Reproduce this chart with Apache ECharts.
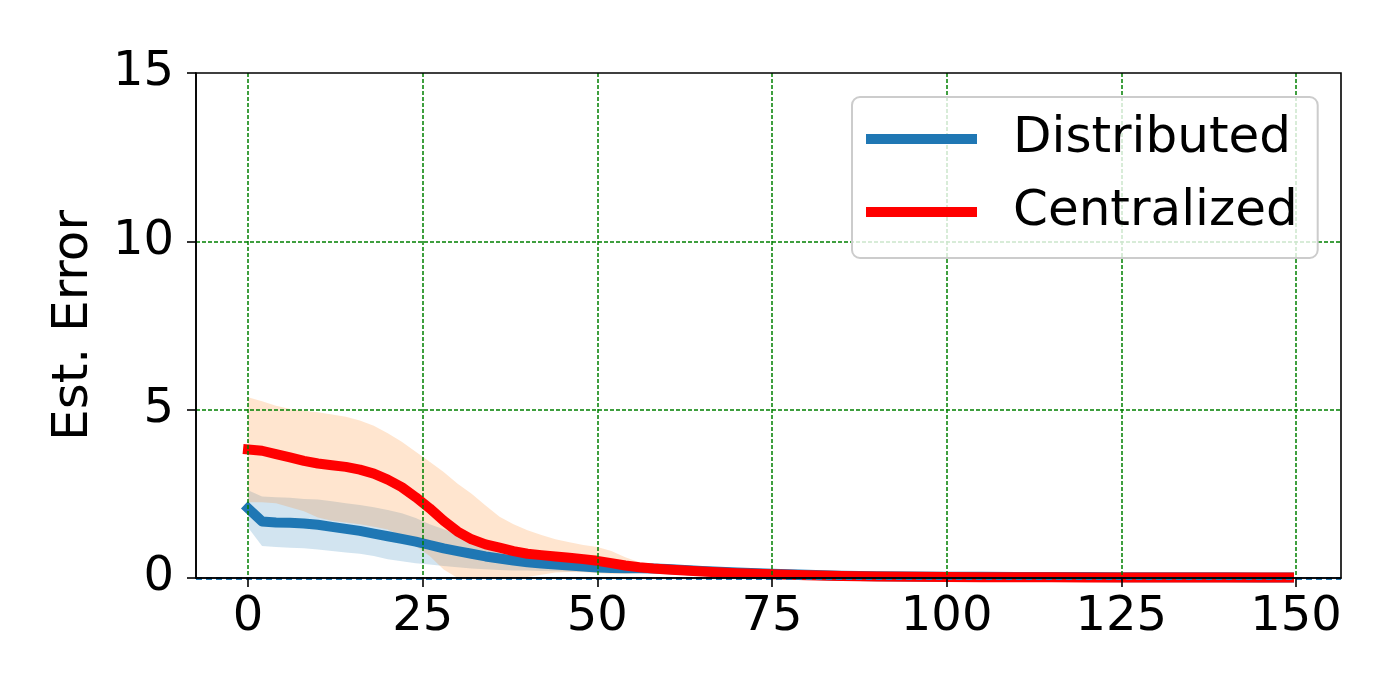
<!DOCTYPE html>
<html>
<head>
<meta charset="utf-8">
<script src="https://cdn.jsdelivr.net/npm/echarts@6/dist/echarts.min.js"></script>
<style>
  html, body { margin: 0; padding: 0; background: #ffffff; }
  #chart { width: 1400px; height: 700px; }
</style>
</head>
<body>
<div id="chart"></div>
<script>
// ---- data ----
const xs = [0,2,4,6,8,10,12,14,16,18,20,22,24,26,28,30,32,34,36,38,40,42,44,46,48,50,52,54,56,58,60,
            65,70,75,80,85,90,95,100,105,110,115,120,125,130,135,140,145,149];
const xTicks = [0, 25, 50, 75, 100, 125, 150];
const yTicks = [0, 5, 10, 15];

const centralizedMean = [3.82,3.78,3.68,3.58,3.48,3.40,3.35,3.30,3.22,3.10,2.92,2.70,2.40,2.07,1.70,1.38,1.15,1.00,0.90,0.80,0.72,0.68,0.64,0.60,0.56,0.51,0.44,0.37,0.32,0.28,0.25,
                         0.19,0.14,0.11,0.08,0.06,0.045,0.035,0.03,0.025,0.022,0.02,0.018,0.016,0.015,0.014,0.013,0.012,0.012];
const centralizedUpper = [5.37,5.25,5.12,5.02,4.97,4.92,4.86,4.79,4.68,4.52,4.30,4.05,3.75,3.45,3.15,2.80,2.50,2.15,1.82,1.60,1.42,1.28,1.15,1.06,0.98,0.92,0.80,0.62,0.47,0.37,0.30,
                          0.22,0.16,0.12,0.09,0.07,0.05,0.04,0.035,0.03,0.026,0.024,0.022,0.02,0.018,0.017,0.016,0.015,0.015];
const centralizedLower = [2.25,2.25,2.22,2.10,1.98,1.80,1.70,1.65,1.60,1.52,1.44,1.25,0.95,0.65,0.25,-0.10,-0.25,-0.15,-0.05,0.0,0.03,0.10,0.16,0.18,0.17,0.14,0.12,0.12,0.15,0.19,0.20,
                          0.16,0.12,0.10,0.07,0.05,0.04,0.03,0.025,0.02,0.018,0.016,0.014,0.012,0.012,0.011,0.01,0.009,0.009];

const distributedMean = [2.07,1.68,1.65,1.64,1.62,1.58,1.52,1.46,1.40,1.32,1.24,1.16,1.08,0.98,0.88,0.80,0.72,0.64,0.58,0.52,0.47,0.43,0.40,0.37,0.34,0.31,0.30,0.29,0.29,0.28,0.27,
                         0.21,0.16,0.13,0.10,0.07,0.055,0.045,0.04,0.035,0.03,0.028,0.026,0.024,0.022,0.02,0.02,0.018,0.018];
const distributedUpper = [2.61,2.42,2.40,2.38,2.35,2.33,2.28,2.22,2.17,2.10,2.02,1.92,1.78,1.60,1.45,1.30,1.15,1.00,0.90,0.80,0.70,0.64,0.58,0.53,0.48,0.43,0.40,0.37,0.35,0.33,0.31,
                          0.24,0.18,0.145,0.11,0.08,0.06,0.05,0.045,0.04,0.035,0.032,0.03,0.027,0.025,0.023,0.022,0.02,0.02];
const distributedLower = [1.50,0.95,0.92,0.90,0.88,0.85,0.80,0.76,0.72,0.65,0.56,0.50,0.44,0.40,0.36,0.32,0.28,0.26,0.24,0.22,0.22,0.21,0.20,0.19,0.19,0.18,0.19,0.21,0.23,0.23,0.22,
                          0.18,0.14,0.115,0.09,0.06,0.05,0.04,0.035,0.03,0.025,0.024,0.022,0.021,0.019,0.017,0.018,0.016,0.016];

const seriesNames = ['Distributed', 'Centralized'];
const yAxisTitle = 'Est. Error';

// ---- styling ----
const FONT = 'DejaVu Sans';
const BLUE = '#1f77b4';
const RED = '#ff0000';
const ORANGE = '#ff7f0e';
const GRID_GREEN = '#008000';

function bandSeries(lower, upper, color) {
  return {
    type: 'custom',
    coordinateSystem: 'cartesian2d',
    silent: true,
    z: 2,
    data: [[xs[0], upper[0]]],
    renderItem: function (params, api) {
      const pts = [];
      for (let i = 0; i < xs.length; i++) pts.push(api.coord([xs[i], upper[i]]));
      for (let i = xs.length - 1; i >= 0; i--) pts.push(api.coord([xs[i], lower[i]]));
      const cs = params.coordSys;
      const clipped = echarts.graphic.clipPointsByRect(pts, { x: cs.x, y: cs.y, width: cs.width, height: cs.height });
      return {
        type: 'polygon',
        shape: { points: clipped },
        style: { fill: color, opacity: 0.2, stroke: null }
      };
    }
  };
}

function lineSeries(name, values, color) {
  return {
    name: name,
    type: 'line',
    z: 3,
    showSymbol: false,
    symbol: 'none',
    data: xs.map((x, i) => [x, values[i]]),
    itemStyle: { color: color },
    lineStyle: { width: 10, color: color, cap: 'square', join: 'round' },
    animation: false
  };
}

const chart = echarts.init(document.getElementById('chart'), null, { renderer: 'canvas' });

const distributedLine = lineSeries(seriesNames[0], distributedMean, BLUE);
distributedLine.markLine = {
  silent: true,
  symbol: ['none', 'none'],
  label: { show: false },
  lineStyle: { color: BLUE, type: [6, 4], width: 3 },
  data: [{ yAxis: 0 }],
  animation: false
};

const option = {
  backgroundColor: '#ffffff',
  animation: false,
  grid: {
    z: 11,
    left: 196, right: 59, top: 73, bottom: 122,
    show: true, borderColor: '#000000', borderWidth: 1.6, backgroundColor: 'transparent'
  },
  legend: {
    z: 20,
    orient: 'vertical',
    left: 852,
    top: 97,
    data: seriesNames,
    icon: 'rect',
    itemWidth: 111,
    itemHeight: 10,
    itemGap: 23,
    padding: [17, 20, 21, 14],
    backgroundColor: 'rgba(255,255,255,0.8)',
    borderColor: '#cccccc',
    borderWidth: 2,
    borderRadius: 8,
    selectedMode: false,
    textStyle: { fontFamily: FONT, fontSize: 50, color: '#000000', lineHeight: 50, padding: [0, 0, 0, 31] }
  },
  xAxis: {
    type: 'value',
    z: 10,
    min: -7.45,
    max: 156.45,
    axisLine: { show: true, onZero: false, lineStyle: { color: '#000000', width: 1.6 } },
    axisTick: { show: true, inside: false, length: 9, lineStyle: { color: '#000000', width: 1.6 }, customValues: xTicks },
    axisLabel: { show: true, customValues: xTicks, margin: 16, fontFamily: FONT, fontSize: 48, color: '#000000' },
    splitLine: { show: true, lineStyle: { color: GRID_GREEN, width: 1.5, type: [4, 2], opacity: 1 } }
  },
  yAxis: {
    type: 'value',
    z: 10,
    min: yTicks[0],
    max: yTicks[yTicks.length - 1],
    interval: 5,
    name: yAxisTitle,
    nameLocation: 'middle',
    nameRotate: 90,
    nameGap: 97,
    nameTextStyle: { fontFamily: FONT, fontSize: 50, color: '#000000' },
    axisLine: { show: true, onZero: false, lineStyle: { color: '#000000', width: 1.6 } },
    axisTick: { show: true, inside: false, length: 9, lineStyle: { color: '#000000', width: 1.6 } },
    axisLabel: { show: true, margin: 22, fontFamily: FONT, fontSize: 48, color: '#000000' },
    splitLine: { show: true, showMaxLine: false, showMinLine: false,
                 lineStyle: { color: GRID_GREEN, width: 1.5, type: [4, 2], opacity: 1 } }
  },
  series: [
    bandSeries(distributedLower, distributedUpper, BLUE),
    bandSeries(centralizedLower, centralizedUpper, ORANGE),
    distributedLine,
    lineSeries(seriesNames[1], centralizedMean, RED)
  ]
};

chart.setOption(option);
</script>
</body>
</html>
